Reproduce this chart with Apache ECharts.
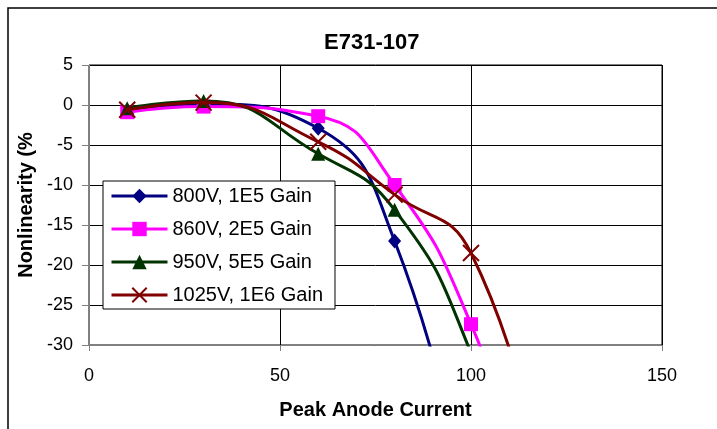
<!DOCTYPE html>
<html>
<head>
<meta charset="utf-8">
<script src="https://cdn.jsdelivr.net/npm/echarts@6/dist/echarts.min.js"></script>
<style>html,body{margin:0;padding:0;background:#fff}#c{width:717px;height:429px}</style>
</head>
<body>
<div id="c"></div>
<script>
const chartTitle = 'E731-107';
const xTitle = 'Peak Anode Current';
const yTitle = 'Nonlinearity (%';
const seriesNames = ['800V, 1E5 Gain', '860V, 2E5 Gain', '950V, 5E5 Gain', '1025V, 1E6 Gain'];
const s800 = [[10, -0.7], [30, 0.1], [60, -2.9], [80, -17.0], [100, -52]];
const s860 = [[10, -0.9], [30, -0.2], [60, -1.4], [80, -10.0], [100, -27.4], [120, -55]];
const s950 = [[10, -0.4], [30, 0.5], [60, -6.1], [80, -13.1], [100, -31], [120, -60]];
const s1025 = [[10, -0.6], [30, 0.3], [60, -4.6], [80, -11.2], [100, -18.5], [120, -50]];
const xTicks = {min: 0, max: 150, interval: 50};
const yTicks = {min: -30, max: 5, interval: 5};

const colors = ['#000080', '#FF00FF', '#003300', '#800000'];
const symbols = ['diamond', 'rect', 'triangle', 'path://M0,0L10,10M10,0L0,10'];
const symSizes = [[13, 15], 14, 14, 16];
const datas = [s800, s860, s950, s1025];

const chart = echarts.init(document.getElementById('c'), null, {renderer: 'canvas'});
const series = seriesNames.map((n, i) => ({
  name: n,
  type: 'line',
  data: datas[i],
  smooth: 0.5,
  clip: true,
  symbol: symbols[i],
  symbolSize: symSizes[i],
  showAllSymbol: true,
  lineStyle: {color: colors[i], width: 3},
  itemStyle: i === 3 ? {color: 'rgba(0,0,0,0)', borderColor: colors[i], borderWidth: 2} : {color: colors[i], borderWidth: 0},
  emphasis: {disabled: true},
  z: 2 + i
}));

chart.setOption({
  animation: false,
  backgroundColor: '#fff',
  title: {
    text: chartTitle, left: 319, top: 27,
    textStyle: {fontFamily: 'Arial, Liberation Sans', fontWeight: 'bold', fontSize: 22, color: '#000'}
  },
  graphic: [{
    type: 'rect', shape: {x: 8, y: 8, width: 800, height: 500},
    style: {fill: 'none', stroke: '#000', lineWidth: 1.5}, silent: true, z: 100
  }],
  grid: {left: 89, right: 55, top: 65, bottom: 84, show: true, borderColor: '#000', borderWidth: 1, backgroundColor: '#fff'},
  legend: {
    orient: 'vertical', left: 103, top: 181,
    data: seriesNames,
    itemWidth: 56, itemHeight: 18, itemGap: 13,
    padding: [5, 12, 4, 7],
    backgroundColor: '#fff', borderColor: '#000', borderWidth: 1,
    lineStyle: {width: 3},
    textStyle: {fontFamily: 'Arial, Liberation Sans', fontSize: 20, color: '#000', lineHeight: 20},
    selectedMode: false,
    z: 20
  },
  xAxis: {
    type: 'value', min: xTicks.min, max: xTicks.max, interval: xTicks.interval,
    name: xTitle, nameLocation: 'middle', nameGap: 55,
    nameTextStyle: {fontFamily: 'Arial, Liberation Sans', fontWeight: 'bold', fontSize: 20, color: '#000'},
    axisLine: {onZero: false, lineStyle: {color: '#808080', width: 1}},
    axisTick: {show: true, inside: false, length: 6, lineStyle: {color: '#808080'}},
    axisLabel: {fontFamily: 'Arial, Liberation Sans', fontSize: 18, color: '#000', margin: 22},
    splitLine: {show: true, lineStyle: {color: '#000', width: 1}}
  },
  yAxis: {
    type: 'value', min: yTicks.min, max: yTicks.max, interval: yTicks.interval,
    name: yTitle, nameLocation: 'middle', nameGap: 53, nameRotate: 90,
    nameTextStyle: {fontFamily: 'Arial, Liberation Sans', fontWeight: 'bold', fontSize: 20, color: '#000'},
    axisLine: {show: true, onZero: false, lineStyle: {color: '#808080', width: 1}},
    axisTick: {show: true, inside: false, length: 7, lineStyle: {color: '#808080'}},
    axisLabel: {fontFamily: 'Arial, Liberation Sans', fontSize: 18, color: '#000', margin: 16},
    splitLine: {show: true, lineStyle: {color: '#000', width: 1}}
  },
  series: series
});
</script>
</body>
</html>
